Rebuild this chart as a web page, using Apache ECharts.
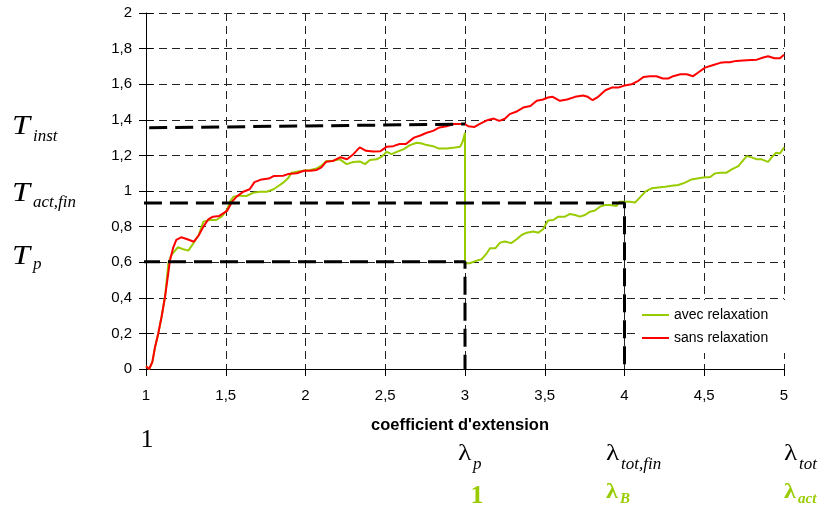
<!DOCTYPE html>
<html>
<head>
<meta charset="utf-8">
<script src="https://cdn.jsdelivr.net/npm/echarts@6/dist/echarts.min.js"></script>
<style>html,body{margin:0;padding:0;background:#fff;}#c{width:824px;height:510px;}</style>
</head>
<body>
<div id="c"></div>
<script>
// ---- data ----
var xTicks = [1, 1.5, 2, 2.5, 3, 3.5, 4, 4.5, 5];
var yTicks = [0, 0.2, 0.4, 0.6, 0.8, 1, 1.2, 1.4, 1.6, 1.8, 2];
var seriesNames = ['avec relaxation', 'sans relaxation'];

var sansRelaxation = [
  [1.0,0.015],[1.02,0],[1.04,0.04],[1.056,0.12],[1.077,0.2],[1.098,0.295],[1.12,0.41],[1.14,0.54],
  [1.15,0.61],[1.17,0.68],[1.19,0.725],[1.22,0.74],[1.255,0.73],[1.30,0.715],[1.33,0.75],[1.36,0.80],
  [1.39,0.84],[1.42,0.856],[1.46,0.86],[1.51,0.89],[1.54,0.94],[1.57,0.97],[1.61,0.996],[1.65,1.01],
  [1.68,1.05],[1.725,1.065],[1.77,1.07],[1.80,1.084],[1.86,1.086],[1.89,1.095],[1.945,1.10],[1.99,1.114],
  [2.03,1.114],[2.07,1.118],[2.10,1.133],[2.13,1.165],[2.17,1.168],[2.22,1.19],[2.26,1.178],[2.30,1.207],
  [2.34,1.245],[2.38,1.226],[2.425,1.222],[2.47,1.224],[2.51,1.249],[2.55,1.252],[2.59,1.264],[2.63,1.264],
  [2.68,1.30],[2.72,1.312],[2.76,1.327],[2.80,1.338],[2.84,1.357],[2.885,1.364],[2.93,1.376],[2.97,1.376],
  [3.0,1.376],[3.02,1.364],[3.06,1.36],[3.09,1.376],[3.14,1.398],[3.18,1.407],[3.215,1.394],[3.25,1.406],
  [3.28,1.432],[3.32,1.445],[3.365,1.469],[3.41,1.477],[3.45,1.507],[3.49,1.514],[3.52,1.525],[3.55,1.529],
  [3.595,1.507],[3.64,1.514],[3.69,1.529],[3.74,1.536],[3.77,1.529],[3.80,1.51],[3.835,1.529],[3.88,1.566],
  [3.92,1.581],[3.96,1.581],[4.0,1.593],[4.045,1.60],[4.087,1.619],[4.12,1.641],[4.16,1.645],[4.20,1.645],
  [4.24,1.632],[4.275,1.632],[4.305,1.645],[4.35,1.656],[4.39,1.656],[4.43,1.645],[4.46,1.664],[4.505,1.693],
  [4.557,1.708],[4.60,1.72],[4.63,1.723],[4.66,1.723],[4.70,1.731],[4.766,1.735],[4.83,1.738],[4.87,1.75],
  [4.90,1.757],[4.94,1.746],[4.975,1.746],[5.0,1.766]
];

var avecRelaxation = [
  [1.0,0.015],[1.02,0],[1.04,0.04],[1.056,0.12],[1.077,0.2],[1.098,0.295],[1.12,0.41],[1.14,0.594],
  [1.16,0.641],[1.20,0.684],[1.234,0.673],[1.265,0.665],[1.297,0.706],[1.33,0.753],[1.36,0.828],[1.40,0.837],
  [1.44,0.837],[1.474,0.856],[1.506,0.89],[1.527,0.94],[1.548,0.968],[1.59,0.974],[1.63,0.972],[1.67,0.99],
  [1.715,0.996],[1.757,0.996],[1.80,1.01],[1.83,1.028],[1.86,1.047],[1.89,1.071],[1.913,1.103],[1.945,1.108],
  [1.986,1.114],[2.03,1.118],[2.07,1.127],[2.10,1.142],[2.13,1.168],[2.17,1.17],[2.216,1.178],[2.258,1.151],
  [2.30,1.163],[2.34,1.166],[2.373,1.151],[2.404,1.174],[2.446,1.178],[2.478,1.193],[2.509,1.22],[2.54,1.207],
  [2.572,1.22],[2.613,1.234],[2.655,1.258],[2.697,1.271],[2.73,1.267],[2.76,1.258],[2.80,1.252],[2.833,1.239],
  [2.885,1.239],[2.937,1.245],[2.97,1.249],[2.985,1.277],[3.0,1.327],[3.0,0.594],[3.03,0.594],[3.073,0.609],
  [3.105,0.617],[3.136,0.65],[3.157,0.678],[3.19,0.678],[3.22,0.71],[3.25,0.716],[3.29,0.707],[3.324,0.729],
  [3.355,0.753],[3.387,0.766],[3.43,0.772],[3.46,0.766],[3.49,0.785],[3.52,0.834],[3.554,0.837],[3.585,0.856],
  [3.627,0.856],[3.658,0.871],[3.69,0.865],[3.72,0.856],[3.752,0.865],[3.784,0.884],[3.815,0.89],[3.846,0.912],
  [3.878,0.921],[3.91,0.921],[3.95,0.916],[3.97,0.94],[4.0,0.94],[4.035,0.94],[4.066,0.935],[4.097,0.964],
  [4.13,0.996],[4.17,1.015],[4.21,1.02],[4.254,1.024],[4.296,1.03],[4.337,1.034],[4.38,1.047],[4.42,1.065],
  [4.463,1.071],[4.505,1.077],[4.536,1.077],[4.567,1.099],[4.60,1.103],[4.64,1.103],[4.672,1.121],[4.714,1.14],
  [4.745,1.174],[4.766,1.196],[4.797,1.189],[4.83,1.178],[4.86,1.178],[4.90,1.164],[4.923,1.189],[4.95,1.215],
  [4.975,1.211],[5.0,1.245]
];

// reference guide lines (values)
var tInstGuide = [[1.02,1.355],[3.0,1.376]];
var tActFinGuide = [[0.987,0.933],[4.0,0.933],[4.0,0]];
var tpGuide = [[0.975,0.602],[3.0,0.602],[3.0,0]];

// ---- chart ----
var chart = echarts.init(document.getElementById('c'), null, {renderer: 'canvas'});
function fmt(v) { return String(Math.round(v * 10) / 10).replace('.', ','); }
var sans = 'Liberation Sans, Arial, sans-serif';
var serif = 'Liberation Serif, Times New Roman, serif';
var green = '#99cc00';

function txt(x, y, text, size, opts) {
  opts = opts || {};
  return {
    type: 'text', x: x, y: y, scaleX: opts.sx || 1, z: 10,
    style: {
      text: text, fontSize: size, fontFamily: opts.family || serif,
      fontStyle: opts.italic ? 'italic' : 'normal', fontWeight: opts.bold ? 'bold' : 'normal',
      fill: opts.color || '#000', align: opts.align || 'left', verticalAlign: 'middle'
    }
  };
}

var graphics = [
  txt(12, 127, 'T', 27, {italic: true, sx: 1.2}),
  txt(33, 137, 'inst', 17, {italic: true}),
  txt(12, 194, 'T', 27, {italic: true, sx: 1.2}),
  txt(33, 203, 'act,fin', 17, {italic: true}),
  txt(12, 257, 'T', 27, {italic: true, sx: 1.2}),
  txt(33, 265, 'p', 17, {italic: true}),
  txt(147, 440, '1', 26, {align: 'center'}),
  txt(460, 426, "coefficient d'extension", 16, {family: sans, bold: true, align: 'center', sx: 1.03}),
  txt(458, 454, '\u03bb', 24, {sx: 1.15}),
  txt(473, 465, 'p', 17, {italic: true}),
  txt(606, 454, '\u03bb', 24, {sx: 1.15}),
  txt(621, 465, 'tot,fin', 17, {italic: true}),
  txt(784, 454, '\u03bb', 24, {sx: 1.15}),
  txt(799, 465, 'tot', 17, {italic: true}),
  txt(477, 496, '1', 26, {bold: true, align: 'center', color: green}),
  txt(606, 492, '\u03bb', 22, {bold: true, color: green, sx: 1.1}),
  txt(620, 499, 'B', 15, {bold: true, italic: true, color: green}),
  txt(784, 492, '\u03bb', 22, {bold: true, color: green, sx: 1.1}),
  txt(798, 499, 'act', 15, {bold: true, italic: true, color: green})
];

function guide(data) {
  return {
    type: 'line', data: data, symbol: 'none', clip: false, silent: true, z: 5,
    lineStyle: {color: '#000', width: 3, type: [18, 8]}
  };
}

var option = {
  backgroundColor: '#fff',
  animation: false,
  grid: {left: 146, right: 40, top: 13, bottom: 141, containLabel: false},
  legend: {
    data: seriesNames, orient: 'vertical', left: 638, top: 300,
    icon: 'path://M0 0H27V2H0Z',
    backgroundColor: '#fff', padding: [8, 20, 8, 4], itemWidth: 27, itemHeight: 14, itemGap: 9,
    textStyle: {fontSize: 14, fontFamily: sans, color: '#000'}, z: 6
  },
  xAxis: {
    type: 'value', min: xTicks[0], max: xTicks[xTicks.length - 1], interval: 0.5,
    axisLine: {lineStyle: {color: '#000', width: 1}},
    axisTick: {show: true, length: 7, lineStyle: {color: '#000'}},
    axisLabel: {formatter: fmt, fontSize: 15, fontFamily: sans, color: '#000', margin: 19},
    splitLine: {show: true, lineStyle: {color: '#222', width: 1, type: [8, 5]}}
  },
  yAxis: [{
    type: 'value', min: yTicks[0], max: yTicks[yTicks.length - 1], interval: 0.2,
    axisLine: {show: true, lineStyle: {color: '#000', width: 1}},
    axisTick: {show: true, length: 7, lineStyle: {color: '#000'}},
    axisLabel: {formatter: fmt, fontSize: 15, fontFamily: sans, color: '#000', margin: 14},
    splitLine: {show: true, lineStyle: {color: '#222', width: 1, type: [8, 5]}}
  }, {
    type: 'value', min: yTicks[0], max: yTicks[yTicks.length - 1], interval: 0.2, position: 'left',
    axisLine: {show: false}, axisLabel: {show: false}, splitLine: {show: false},
    axisTick: {show: true, inside: true, length: 7, lineStyle: {color: '#000'}}
  }],
  series: [
    {name: seriesNames[0], type: 'line', data: avecRelaxation, symbol: 'none', z: 3,
     lineStyle: {color: green, width: 2}, itemStyle: {color: green}},
    {name: seriesNames[1], type: 'line', data: sansRelaxation, symbol: 'none', z: 4,
     lineStyle: {color: '#ff0000', width: 2}, itemStyle: {color: '#ff0000'}},
    guide(tInstGuide), guide(tActFinGuide), guide(tpGuide)
  ],
  graphic: graphics
};
chart.setOption(option);
</script>
</body>
</html>
